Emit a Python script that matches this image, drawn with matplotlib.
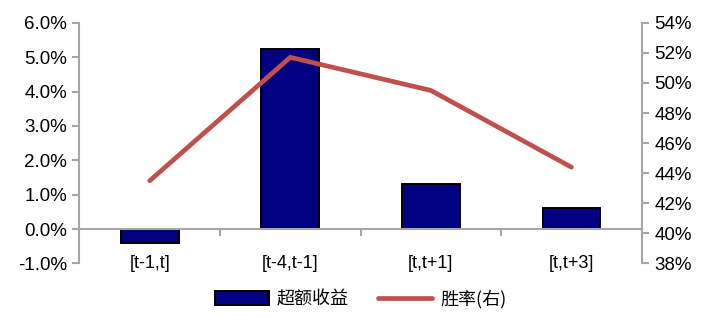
import matplotlib.pyplot as plt
from matplotlib.ticker import FuncFormatter, FixedLocator
from matplotlib.lines import Line2D
from matplotlib.patches import Patch

plt.rcParams['font.family'] = ['Liberation Sans', 'Noto Sans CJK SC', 'DejaVu Sans']

categories = ['[t-1,t]', '[t-4,t-1]', '[t,t+1]', '[t,t+3]']
excess_return = [-0.40, 5.24, 1.32, 0.62]   # %
win_rate = [43.5, 51.7, 49.5, 44.4]          # %

grey = '#a6a6a6'
bar_color = '#000080'
line_color = '#c0504d'

fig = plt.figure(figsize=(7.14, 3.18), dpi=100)
ax = fig.add_axes([0.1113, 0.1714, 0.7874, 0.7572])
ax2 = ax.twinx()

x = list(range(len(categories)))
ax.bar(x, excess_return, width=0.41, color=bar_color, edgecolor='black', linewidth=1.4, zorder=2)

ax2.plot(x, win_rate, color=line_color, linewidth=3.4, solid_capstyle='round',
         solid_joinstyle='miter', zorder=3)

ax.set_xlim(-0.5, 3.5)
ax.set_ylim(-1, 6)
ax2.set_ylim(38, 54)
ax.set_yticks([-1, 0, 1, 2, 3, 4, 5, 6])
ax2.set_yticks(range(38, 55, 2))
ax.yaxis.set_major_formatter(FuncFormatter(lambda v, p: f'{v:.1f}%'))
ax2.yaxis.set_major_formatter(FuncFormatter(lambda v, p: f'{v:.0f}%'))

for s in ['top', 'right']:
    ax.spines[s].set_visible(False)
for s in ['top', 'left', 'bottom']:
    ax2.spines[s].set_visible(False)
ax.spines['bottom'].set_position(('data', 0))
for sp in [ax.spines['left'], ax.spines['bottom'], ax2.spines['right']]:
    sp.set_color(grey)
    sp.set_linewidth(1.5)

ax.set_xticks(x)
ax.set_xticklabels(categories)
ax.xaxis.set_minor_locator(FixedLocator([0.5, 1.5, 2.5, 3.5]))
ax.tick_params(axis='x', which='major', length=0, pad=19, labelsize=13)
ax.tick_params(axis='x', which='minor', length=5, width=1.5, color=grey, direction='out')
ax.tick_params(axis='y', length=5, width=1.5, color=grey, labelsize=13.5, pad=4)
ax2.tick_params(axis='y', length=5, width=1.5, color=grey, labelsize=13.5, pad=4)

handles = [Patch(facecolor=bar_color, edgecolor='black', linewidth=1.4),
           Line2D([0], [0], color=line_color, linewidth=3.4, solid_capstyle='round')]
fig.legend(handles, ['超额收益', '胜率(右)'], loc='center', bbox_to_anchor=(0.505, 0.06),
           ncol=2, frameon=False, handlelength=3.0, handleheight=0.8, columnspacing=1.6,
           handletextpad=0.45,
           prop={'family': ['Noto Sans CJK SC'], 'size': 13})

fig.savefig('out.png', dpi=100)
